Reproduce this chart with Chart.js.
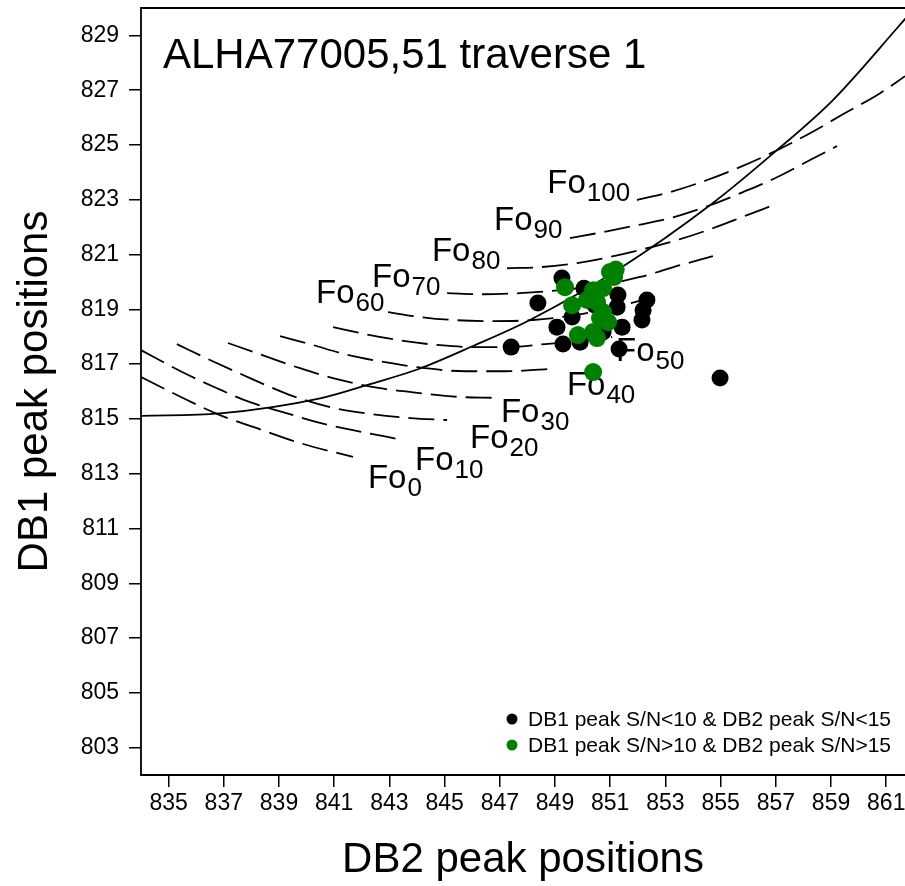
<!DOCTYPE html>
<html>
<head>
<meta charset="utf-8">
<script src="https://cdn.jsdelivr.net/npm/chart.js@4.4.1/dist/chart.umd.min.js"></script>
<style>
  html, body { margin: 0; padding: 0; background: #fff; overflow: hidden; }
</style>
</head>
<body>
<canvas id="chart" width="905" height="886"></canvas>
<script>
const FONT = '"Liberation Sans", Arial, sans-serif'

const xTicks = [835, 837, 839, 841, 843, 845, 847, 849, 851, 853, 855, 857, 859, 861]
const yTicks = [803, 805, 807, 809, 811, 813, 815, 817, 819, 821, 823, 825, 827, 829]

// low signal spectra (black)
const lowX = [849.25, 848.38, 847.41, 849.07, 849.29, 849.91, 851.32, 851.28, 851.25, 851.43, 852.33, 852.19, 852.15, 850.05, 849.62, 850.45, 850.74, 854.98]
const lowY = [820.14, 819.23, 817.62, 818.35, 817.73, 817.80, 817.55, 819.52, 819.08, 818.35, 819.34, 818.97, 818.61, 819.77, 818.72, 819.15, 818.17, 816.49]

// high signal spectra (green)
const highX = [849.36, 849.83, 850.99, 851.14, 851.20, 850.74, 850.38, 850.16, 849.62, 850.52, 850.63, 850.92, 850.38, 850.52, 850.74, 850.38]
const highY = [819.81, 818.06, 820.36, 820.18, 820.45, 819.77, 819.70, 819.34, 819.15, 819.26, 818.68, 818.53, 818.17, 817.95, 818.90, 816.71]

// solid reference curve
const fitX = [834.00, 836.86, 840.49, 842.30, 844.11, 846.03, 848.09, 851.36, 854.72, 857.04, 859.07, 861.39, 861.70]
const fitY = [815.11, 815.20, 815.75, 816.27, 816.84, 817.66, 818.61, 820.50, 822.88, 824.81, 826.64, 829.26, 829.62]

// forsterite iso-composition curves, Fo0 .. Fo100
const foNames = ['0', '10', '20', '30', '40', '50', '60', '70', '80', '90', '100']
const foX = [
  [834.00, 835.67, 836.86, 838.20, 839.76, 841.68],
  [834.00, 835.49, 836.75, 837.95, 839.14, 840.38, 841.68, 843.49],
  [835.30, 836.50, 837.95, 839.40, 840.85, 842.30, 843.75, 845.09],
  [837.15, 838.31, 839.76, 841.21, 842.66, 844.11, 845.56, 846.75],
  [839.04, 840.12, 841.39, 842.84, 844.29, 845.74, 847.19, 848.82],
  [840.96, 842.30, 843.57, 844.83, 846.10, 847.37, 848.64, 849.91, 851.07],
  [842.95, 844.11, 845.30, 846.75, 848.20, 849.72, 851.17, 852.62],
  [845.09, 846.39, 847.73, 849.18, 850.63, 852.08, 853.53, 854.72],
  [847.26, 848.46, 849.80, 850.99, 852.33, 853.53, 854.72, 855.96, 856.90],
  [849.54, 850.74, 851.97, 853.28, 854.62, 855.81, 857.04, 858.24, 859.22],
  [851.97, 853.17, 854.51, 855.70, 856.68, 858.24, 859.43, 860.78, 861.68],
]
const foY = [
  [816.53, 815.69, 815.14, 814.66, 814.12, 813.61],
  [817.51, 816.71, 816.12, 815.61, 815.25, 814.88, 814.59, 814.23],
  [817.73, 817.15, 816.49, 815.87, 815.43, 815.18, 815.03, 814.96],
  [817.77, 817.36, 816.85, 816.42, 816.12, 815.94, 815.80, 815.77],
  [818.02, 817.73, 817.36, 817.07, 816.85, 816.74, 816.74, 816.82],
  [818.35, 818.06, 817.84, 817.69, 817.62, 817.62, 817.73, 817.84, 817.99],
  [818.90, 818.72, 818.61, 818.57, 818.61, 818.79, 819.08, 819.45],
  [819.59, 819.55, 819.59, 819.70, 819.88, 820.18, 820.61, 820.94],
  [820.50, 820.54, 820.69, 820.91, 821.23, 821.56, 821.96, 822.44, 822.80],
  [821.60, 821.82, 822.07, 822.36, 822.80, 823.28, 823.82, 824.45, 824.96],
  [822.99, 823.28, 823.72, 824.19, 824.63, 825.43, 826.12, 826.89, 827.51],
]

const pts = (xs, ys) => xs.map((v, i) => ({ x: v, y: ys[i] }))

const curveStyle = {
  showLine: true,
  pointRadius: 0,
  borderColor: '#000',
  borderWidth: 1.8,
  cubicInterpolationMode: 'monotone',
}

const datasets = [
  {
    label: 'DB1 peak S/N>10 & DB2 peak S/N>15',
    data: pts(highX, highY),
    backgroundColor: '#008000',
    borderWidth: 0,
    pointRadius: 9,
  },
  {
    label: 'DB1 peak S/N<10 & DB2 peak S/N<15',
    data: pts(lowX, lowY),
    backgroundColor: '#000',
    borderWidth: 0,
    pointRadius: 8.5,
  },
  { ...curveStyle, label: 'fit', data: pts(fitX, fitY) },
  ...foNames.map((n, i) => ({
    ...curveStyle,
    label: 'Fo' + n,
    data: pts(foX[i], foY[i]),
    borderDash: [26, 9],
  })),
]

// box: top, left and bottom lines of the plot
const frame = {
  id: 'frame',
  afterDraw(chart) {
    const { ctx, chartArea: a } = chart
    ctx.save()
    ctx.strokeStyle = '#000'
    ctx.lineWidth = 1.8
    ctx.beginPath()
    ctx.moveTo(a.right + 2, a.top)
    ctx.lineTo(a.left, a.top)
    ctx.lineTo(a.left, a.bottom)
    ctx.lineTo(a.right + 2, a.bottom)
    ctx.stroke()
    ctx.restore()
  },
}

// "Fo" with subscript composition, placed in data units
const foLabels = {
  id: 'foLabels',
  beforeDatasetsDraw(chart, args, opts) {
    const { ctx, scales: { x, y } } = chart
    ctx.save()
    ctx.fillStyle = '#000'
    ctx.textBaseline = 'alphabetic'
    ctx.textAlign = 'left'
    opts.at.forEach(([vx, vy], i) => {
      const px = x.getPixelForValue(vx)
      const py = y.getPixelForValue(vy)
      ctx.font = '33px ' + FONT
      ctx.fillText('Fo', px, py)
      const w = ctx.measureText('Fo').width
      ctx.font = '26px ' + FONT
      ctx.fillText(foNames[i], px + w + 1, py + 8)
    })
    ctx.restore()
  },
}

const plotTitle = {
  id: 'plotTitle',
  afterDatasetsDraw(chart, args, opts) {
    const { ctx, chartArea: a } = chart
    ctx.save()
    ctx.fillStyle = '#000'
    ctx.font = '42px ' + FONT
    ctx.textBaseline = 'alphabetic'
    ctx.fillText(opts.text, a.left + 22, a.top + 60)
    ctx.restore()
  },
}

const markerLegend = {
  id: 'markerLegend',
  afterDatasetsDraw(chart) {
    const { ctx, chartArea: a } = chart
    const items = chart.data.datasets.filter((d) => d.pointRadius > 0).reverse()
    ctx.save()
    ctx.font = '21px ' + FONT
    ctx.textBaseline = 'middle'
    items.forEach((d, i) => {
      const cx = a.right - 393
      const cy = a.bottom - 56 + i * 26
      ctx.fillStyle = d.backgroundColor
      ctx.beginPath()
      ctx.arc(cx, cy, 5.5, 0, Math.PI * 2)
      ctx.fill()
      ctx.fillStyle = '#000'
      ctx.fillText(d.label, cx + 16, cy + 1)
    })
    ctx.restore()
  },
}

const axisStyle = (ticks) => ({
  type: 'linear',
  afterBuildTicks: (s) => { s.ticks = ticks.map((v) => ({ value: v })) },
  grid: { display: true, drawOnChartArea: false, drawTicks: true, tickLength: 12, color: '#000', lineWidth: 1.5 },
  border: { display: false },
  ticks: { color: '#000', font: { family: FONT, size: 23 }, autoSkip: false, maxRotation: 0, callback: (v) => String(v) },
})

new Chart(document.getElementById('chart'), {
  type: 'scatter',
  data: { datasets },
  plugins: [frame, foLabels, plotTitle, markerLegend],
  options: {
    responsive: false,
    animation: false,
    devicePixelRatio: 1,
    layout: { autoPadding: false, padding: { top: 8, right: 0, left: 0, bottom: 0 } },
    plugins: {
      legend: { display: false },
      tooltip: { enabled: false },
      plotTitle: { text: 'ALHA77005,51 traverse 1' },
      foLabels: {
        at: [
          [842.22, 812.47], [843.93, 813.13], [845.92, 813.93], [847.04, 814.88],
          [849.43, 815.87], [851.21, 817.11], [840.34, 819.23], [842.37, 819.81],
          [844.54, 820.76], [846.79, 821.89], [848.72, 823.24],
        ],
      },
    },
    scales: {
      x: {
        ...axisStyle(xTicks),
        min: 834,
        max: 861.68,
        ticks: { ...axisStyle(xTicks).ticks, padding: 3 },
        title: { display: true, text: 'DB2 peak positions', color: '#000', font: { family: FONT, size: 42 }, padding: { top: 0, bottom: 0 } },
        afterFit: (s) => {
          s.height = 111
          s.paddingLeft = 0
          s.paddingRight = 0
        },
      },
      y: {
        ...axisStyle(yTicks),
        min: 802,
        max: 830,
        ticks: { ...axisStyle(yTicks).ticks, padding: 10 },
        title: { display: true, text: 'DB1 peak positions', color: '#000', font: { family: FONT, size: 42 }, padding: { top: 10, bottom: 0 } },
        afterFit: (s) => {
          s.width = 141
          s.paddingTop = 0
          s.paddingBottom = 0
        },
      },
    },
  },
})
</script>
</body>
</html>
